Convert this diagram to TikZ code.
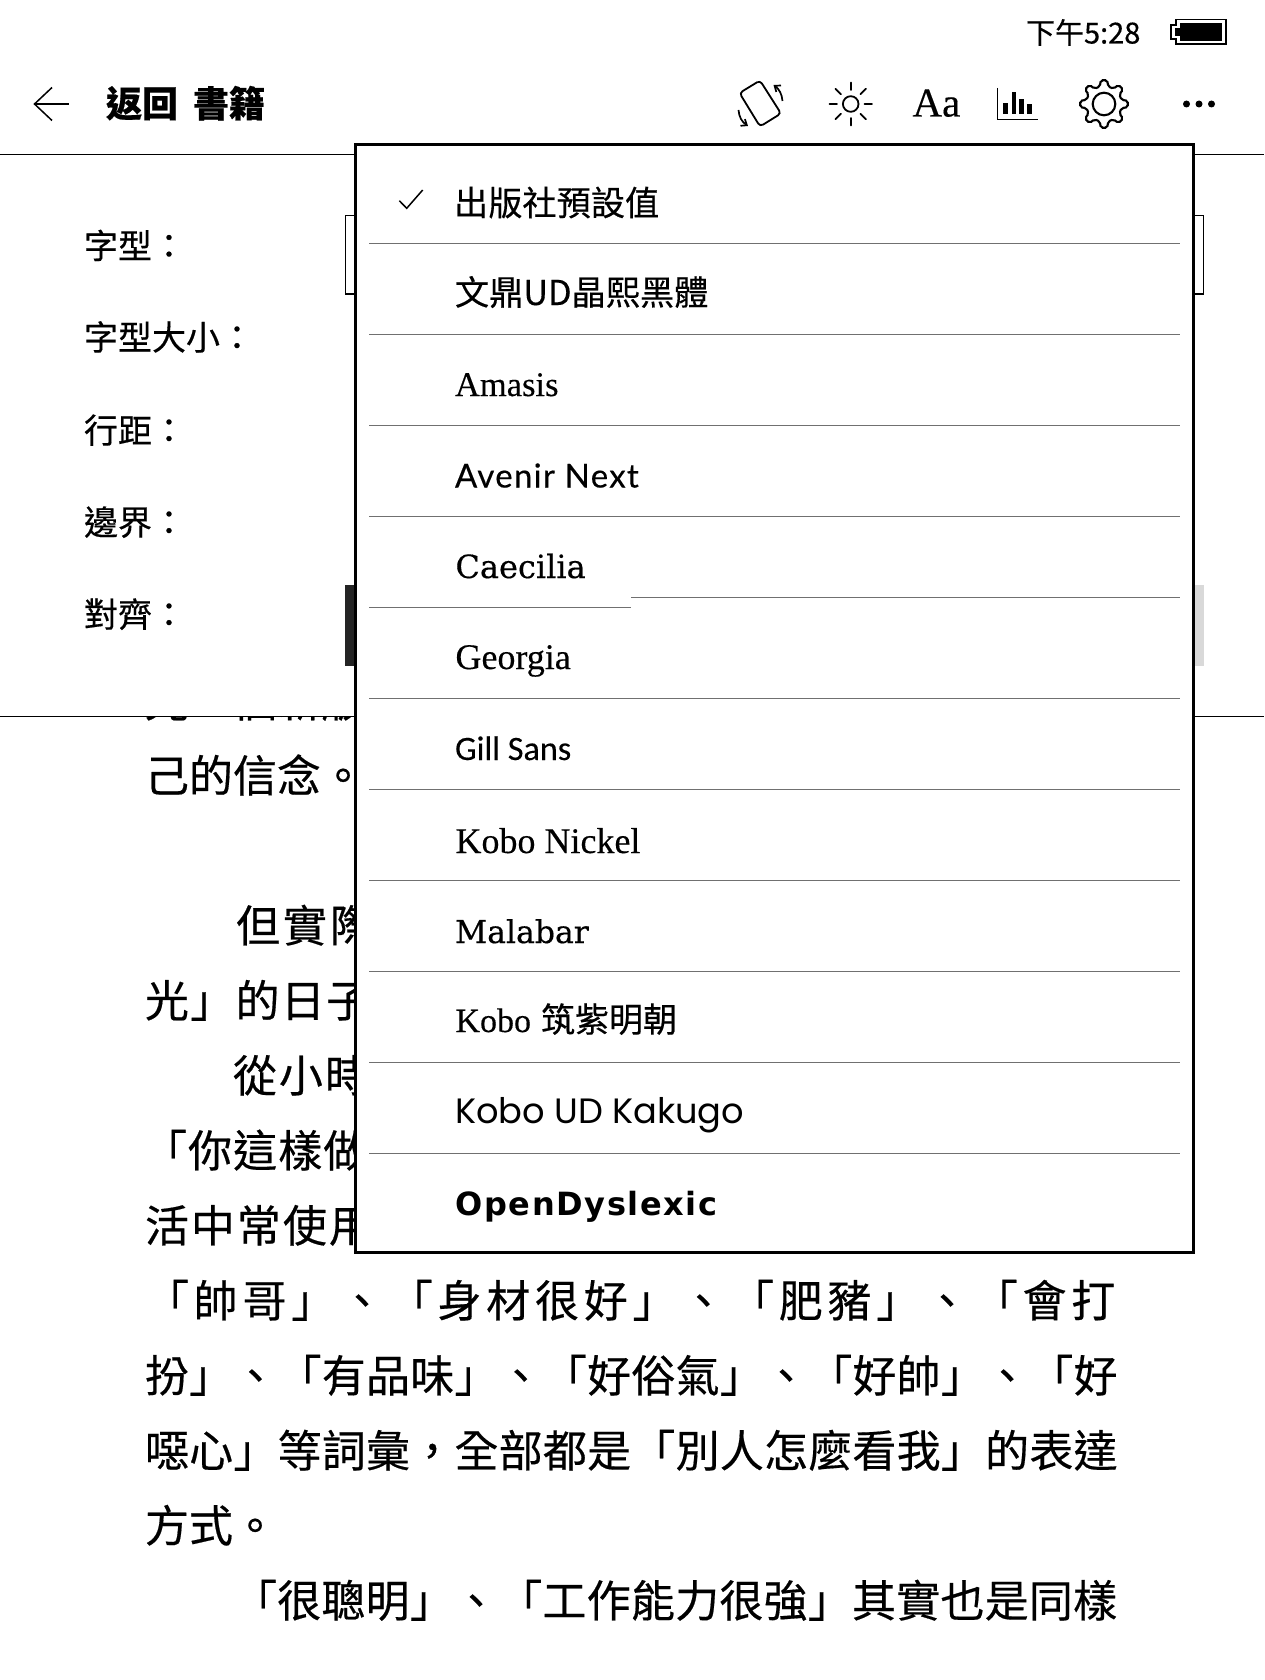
\documentclass[tikz,border=0pt]{standalone}
\usepackage{fontspec}
\setmainfont[FakeBold=0.4]{Noto Sans CJK TC}
\newfontfamily\serifface[FakeBold=0.3]{Liberation Serif}
\newfontfamily\slabface[FakeBold=0.4]{DejaVu Serif}
\newfontfamily\gillface[FakeBold=0.2]{Carlito}
\newfontfamily\avenirface[LetterSpace=4,FakeBold=0.3]{Lato}
\newfontfamily\udface{Poppins}
\newfontfamily\dysface[LetterSpace=5]{DejaVu Sans}
\usetikzlibrary{arrows.meta}
\newcommand{\sz}[1]{\fontsize{#1}{#1}\selectfont}

\begin{document}
\begin{tikzpicture}[x=1pt,y=-1pt]
\tikzset{textnode/.style={anchor=base west, inner sep=0pt, outer sep=0pt},
  bookline/.style={textnode, font=\sz{44}\addfontfeature{LetterSpace=#1}},
  bookline/.default=0,
  formlabel/.style={textnode, font=\sz{34}},
  menuitem/.style={textnode, font=\sz{34.2}},
  menurule/.style={draw=black!56, line width=1.3pt},
  barline/.style={line width=1.4pt},
  iconline/.style={line width=1.8pt, line cap=round},
  barfill/.style={fill=black}}
\useasboundingbox (0,0) rectangle (1264,1680);
\fill[white] (0,0) rectangle (1264,1680);

% book text
\node[bookline] (clipped) at (145,717) {光一個新版};
\node[bookline] (line1) at (145,792) {己的信念。};
\node[bookline=6.8] (line2) at (236,942) {但實際};
\node[bookline=3] (line3) at (145,1017) {光」的日子};
\node[bookline=4.5] (line4) at (233,1092) {從小時};
\node[bookline=2.5] (line5) at (143,1167) {「你這樣做};
\node[bookline=4.5] (line6) at (145,1242) {活中常使用};
\node[bookline=10.8] (line7) at (145,1317) {「帥哥」、「身材很好」、「肥豬」、「會打};
\node[bookline=0.5] (line8) at (145,1392) {扮」、「有品味」、「好俗氣」、「好帥」、「好};
\node[bookline=0.5] (line9) at (145,1467) {噁心」等詞彙，全部都是「別人怎麼看我」的表達};
\node[bookline] (line10) at (145,1542) {方式。};
\node[bookline=0.5] (line11) at (233,1617) {「很聰明」、「工作能力很強」其實也是同樣};

% settings panel
\fill[white] (0,155) rectangle (1264,716);
\draw[barline] (0,154.3) -- (1264,154.3);
\draw[barline] (0,716.3) -- (1264,716.3);
\node[formlabel] (fontlabel) at (84,258.5) {字型：};
\node[formlabel] (sizelabel) at (84,350) {字型大小：};
\node[formlabel] (spacelabel) at (84,443) {行距：};
\node[formlabel] (marginlabel) at (84,535) {邊界：};
\node[formlabel] (alignlabel) at (84,627) {對齊：};
\draw[barline] (345.5,215.7) rectangle (1203.2,294);
\fill[black!86] (345,584.5) rectangle (700,665.5);
\fill[black!15] (700,584.5) rectangle (1203.5,665.5);

% top bar
\node[textnode, font=\sz{29}] (timelabel) at (1026,43.5) {下午5:28};
\draw[line width=1.5pt] (1176,19.5) -- (1226,19.5) -- (1226,44) -- (1176,44) -- (1176,39) -- (1171,39) -- (1171,25) -- (1176,25) -- cycle;
\fill (1180,23.5) rectangle (1221.5,41);
\fill (1175,28) rectangle (1180,36);
\draw[line width=1.5pt] (52,87.5) -- (34.5,104) -- (52,120.5);
\draw[line width=1.5pt] (34.5,104) -- (69,104);
\node[textnode, font=\bfseries\sz{36}] (backlabel) at (106,117) {返回\hspace*{15pt}書籍};

% icons
\draw[iconline, rounded corners=3.5pt] (739.5,93) -- (760,80.5) -- (781,113.5) -- (760,126.5) -- cycle;
\draw[line width=1.7pt, -{Straight Barb[length=5pt,width=8pt]}] (782.5,101) .. controls (782,94) and (779,89) .. (773.5,85);
\draw[line width=1.7pt, -{Straight Barb[length=5pt,width=8pt]}] (738.5,110) .. controls (739,117) and (742,122) .. (748,126);
\draw[iconline] (850.7,104) circle (7.8);
\draw[iconline] (850.7,82.5) -- (850.7,90);
\draw[iconline] (850.7,118) -- (850.7,125.5);
\draw[iconline] (829.5,104) -- (837,104);
\draw[iconline] (864.5,104) -- (872,104);
\draw[iconline] (835.5,88.8) -- (841,94.3);
\draw[iconline] (860.4,113.7) -- (865.9,119.2);
\draw[iconline] (835.5,119.2) -- (841,113.7);
\draw[iconline] (860.4,94.3) -- (865.9,88.8);
\node[textnode, font=\serifface\sz{41}] (fontsize) at (912.5,116.5) {Aa};
\draw[line width=1.5pt] (997.3,88) -- (997.3,119.3) -- (1037.7,119.3);
\fill[barfill] (1003.3,102.7) rectangle (1008.3,114);
\fill[barfill] (1011.5,91.7) rectangle (1016.2,114);
\fill[barfill] (1019.3,99.3) rectangle (1024,114);
\fill[barfill] (1027.3,104) rectangle (1032,114);
\begin{scope}[shift={(1104,104)}]
\draw[line width=2.1pt, line cap=round, rounded corners=2pt] (-13:18) -- (-8:24) -- (8:24) -- (13:18)
  foreach \a in {45,90,...,315} {-- (\a-13:18) -- (\a-8:24) -- (\a+8:24) -- (\a+13:18)} -- cycle;
\draw[line width=2.1pt] (0,0) circle (11.3);
\end{scope}
\fill (1186.5,104) circle (3.5);
\fill (1199,104) circle (3.5);
\fill (1211.5,104) circle (3.5);

% font menu
\draw[fill=white, line width=2.8pt] (355.3,144.7) rectangle (1193.4,1252.3);
\draw[line width=1.5pt] (399.3,200.7) -- (406.7,208.3) -- (422.7,190);
\node[menuitem] (itemdefault) at (454,215.5) {出版社預設值};
\draw[menurule] (369,243.3) -- (1180,243.3);
\node[menuitem] (itemwending) at (455,305) {文鼎UD晶熙黑體};
\draw[menurule] (369,334.3) -- (1180,334.3);
\node[menuitem, font=\serifface\sz{34.5}] (itemamasis) at (455,396) {Amasis};
\draw[menurule] (369,425.3) -- (1180,425.3);
\node[menuitem, font=\avenirface\sz{33}] (itemavenir) at (455,487.5) {Avenir Next};
\draw[menurule] (369,516.3) -- (1180,516.3);
\node[menuitem, font=\slabface\sz{32}] (itemcaecilia) at (455.5,578) {Caecilia};
\draw[menurule] (369,607.3) -- (631,607.3);
\draw[menurule] (631,597.3) -- (1180,597.3);
\node[menuitem, font=\serifface\sz{36}] (itemgeorgia) at (455.5,669) {Georgia};
\draw[menurule] (369,698.3) -- (1180,698.3);
\node[menuitem, font=\gillface\sz{34.2}] (itemgill) at (455,760) {Gill Sans};
\draw[menurule] (369,789.3) -- (1180,789.3);
\node[menuitem, font=\serifface\sz{36}] (itemnickel) at (455.5,853) {Kobo Nickel};
\draw[menurule] (369,880.3) -- (1180,880.3);
\node[menuitem, font=\slabface\sz{31.5}] (itemmalabar) at (455,943) {Malabar};
\draw[menurule] (369,971.3) -- (1180,971.3);
\node[menuitem, font=\serifface\sz{34}] (itemtsukushi) at (455.5,1032) {Kobo\hspace*{10pt}{\normalfont\sz{34}筑紫明朝}};
\draw[menurule] (369,1062.3) -- (1180,1062.3);
\node[menuitem, font=\udface\sz{35.2}] (itemkakugo) at (455,1123) {Kobo UD Kakugo};
\draw[menurule] (369,1153.3) -- (1180,1153.3);
\node[menuitem, font=\dysface\bfseries\sz{32}] (itemdyslexic) at (455.5,1215) {OpenDyslexic};
\end{tikzpicture}
\end{document}
